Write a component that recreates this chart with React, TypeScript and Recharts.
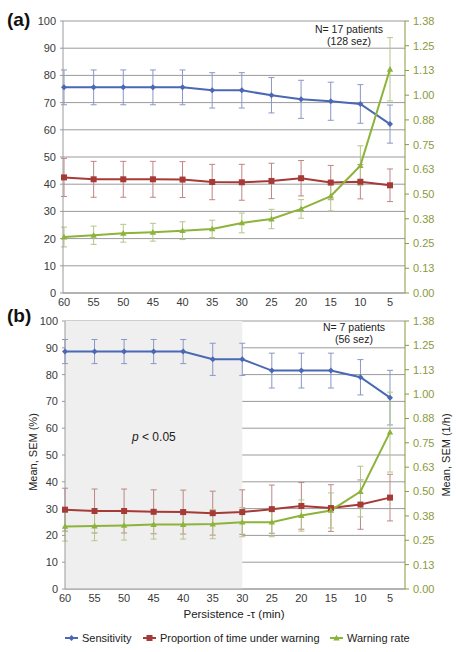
import React from "react";
import {
  LineChart,
  Line,
  XAxis,
  YAxis,
  CartesianGrid,
  ErrorBar,
  ReferenceArea,
} from "recharts";

// ---------- data ----------
const tau = [60, 55, 50, 45, 40, 35, 30, 25, 20, 15, 10, 5];

// panel (a)
const sensA = [75.6, 75.6, 75.6, 75.6, 75.6, 74.5, 74.5, 72.7, 71.2, 70.5, 69.5, 62.1];
const sensAErr = [6.4, 6.4, 6.4, 6.4, 6.4, 6.5, 6.5, 6.5, 7.0, 7.0, 7.1, 7.0];
const propA = [42.5, 41.8, 41.8, 41.8, 41.7, 40.8, 40.7, 41.2, 42.2, 40.6, 40.9, 39.6];
const propAErr = [7.0, 6.6, 6.6, 6.6, 6.6, 6.5, 6.6, 6.5, 6.5, 6.3, 6.3, 6.0];
const rateA = [0.283, 0.292, 0.302, 0.307, 0.315, 0.324, 0.354, 0.374, 0.425, 0.49, 0.644, 1.131];
const rateAErr = [0.05, 0.046, 0.045, 0.045, 0.045, 0.044, 0.05, 0.049, 0.047, 0.075, 0.1, 0.16];

// panel (b)
const sensB = [88.6, 88.6, 88.6, 88.6, 88.6, 85.7, 85.7, 81.5, 81.5, 81.5, 79.0, 71.4];
const sensBErr = [4.5, 4.5, 4.5, 4.5, 4.5, 6.0, 6.0, 6.5, 6.5, 6.5, 6.6, 10.2];
const propB = [29.6, 29.1, 29.1, 28.8, 28.7, 28.3, 28.7, 29.8, 31.0, 30.2, 31.5, 34.1];
const propBErr = [8.0, 8.2, 8.2, 8.2, 8.2, 8.2, 8.3, 9.0, 8.7, 8.7, 9.2, 8.7];
const rateB = [0.321, 0.323, 0.326, 0.331, 0.331, 0.333, 0.343, 0.343, 0.377, 0.403, 0.5, 0.805];
const rateBErr = [0.075, 0.075, 0.075, 0.075, 0.075, 0.075, 0.075, 0.075, 0.08, 0.09, 0.13, 0.205];

const leftTicks = [0, 10, 20, 30, 40, 50, 60, 70, 80, 90, 100];
const rightTicks = [0, 0.125, 0.25, 0.375, 0.5, 0.625, 0.75, 0.875, 1, 1.125, 1.25, 1.375];

const seriesNames = ["Sensitivity", "Proportion of time under warning", "Warning rate"];

// ---------- styles ----------
const FONT = '"Liberation Sans", Arial, sans-serif';
const BLUE = "#4a68b4";
const RED = "#a63a36";
const GREEN = "#8db33a";
const BLUE_ERR = "#8a97c6";
const RED_ERR = "#bf8585";
const GREEN_ERR = "#b4c68a";
const OLIVE = "#8a9a3c";
const GRID = "#9a9a9a";
const TXT = "#3a3a3a";

const buildRows = (
  s: number[], se: number[], p: number[], pe: number[], r: number[], re: number[]
) =>
  tau.map((t, i) => ({
    tau: t,
    sens: s[i],
    sensErr: se[i],
    prop: p[i],
    propErr: pe[i],
    rate: r[i],
    rateErr: re[i],
  }));

const dataA = buildRows(sensA, sensAErr, propA, propAErr, rateA, rateAErr);
const dataB = buildRows(sensB, sensBErr, propB, propBErr, rateB, rateBErr);

const diamondDot = (props: any) => {
  const { cx, cy, index } = props;
  if (cx == null || cy == null) return <g key={`d${index}`} />;
  return (
    <path
      key={`d${index}`}
      d={`M${cx},${cy - 3}L${cx + 3},${cy}L${cx},${cy + 3}L${cx - 3},${cy}Z`}
      fill={BLUE}
    />
  );
};
const squareDot = (props: any) => {
  const { cx, cy, index } = props;
  if (cx == null || cy == null) return <g key={`s${index}`} />;
  return <rect key={`s${index}`} x={cx - 3} y={cy - 3} width={6} height={6} fill={RED} />;
};
const triDot = (props: any) => {
  const { cx, cy, index } = props;
  if (cx == null || cy == null) return <g key={`t${index}`} />;
  return (
    <path
      key={`t${index}`}
      d={`M${cx},${cy - 3.2}L${cx + 3.2},${cy + 2.4}L${cx - 3.2},${cy + 2.4}Z`}
      fill={GREEN}
    />
  );
};

type PanelProps = {
  data: any[];
  top: number;
  height: number;
  leftW: number;
  padLeft: number;
  shade?: boolean;
};

const Panel = ({ data, top, height, leftW, padLeft, shade }: PanelProps) => (
  <div style={{ position: "absolute", left: 0, top, width: 456, height }}>
    <LineChart
      width={456}
      height={height}
      data={data}
      margin={{ top: 21, right: 0, bottom: 0, left: 0 }}
      style={{ fontFamily: FONT }}
    >
      {shade && (
        <ReferenceArea
          yAxisId="left"
          x1={60}
          x2={30}
          y1={0}
          y2={100}
          fill="#efefef"
          fillOpacity={1}
          stroke="none"
        />
      )}
      <CartesianGrid yAxisId="left" vertical={false} stroke={GRID} strokeWidth={1} />
      <XAxis
        dataKey="tau"
        type="category"
        interval={0}
        height={17}
        padding={{ left: padLeft, right: 15 }}
        tickLine={false}
        axisLine={{ stroke: GRID }}
        tickSize={4}
        tickMargin={1}
        tick={{ fontSize: 11, fill: TXT }}
      />
      <YAxis
        yAxisId="left"
        orientation="left"
        width={leftW}
        domain={[0, 100]}
        ticks={leftTicks}
        interval={0}
        axisLine={{ stroke: GRID }}
        tickLine={{ stroke: GRID }}
        tickSize={3}
        tickMargin={4}
        tick={{ fontSize: 11, fill: TXT }}
      />
      <YAxis
        yAxisId="right"
        orientation="right"
        width={51}
        domain={[0, 1.375]}
        ticks={rightTicks}
        interval={0}
        axisLine={{ stroke: OLIVE }}
        tickLine={{ stroke: OLIVE }}
        tickSize={4}
        tickMargin={4}
        tickFormatter={(v: number) => v.toFixed(2)}
        tick={{ fontSize: 11, fill: OLIVE }}
      />
      <Line
        yAxisId="left"
        dataKey="sens"
        name={seriesNames[0]}
        stroke={BLUE}
        strokeWidth={2}
        dot={diamondDot}
        activeDot={false}
        isAnimationActive={false}
      >
        <ErrorBar dataKey="sensErr" width={3} stroke={BLUE_ERR} strokeWidth={1} />
      </Line>
      <Line
        yAxisId="left"
        dataKey="prop"
        name={seriesNames[1]}
        stroke={RED}
        strokeWidth={2}
        dot={squareDot}
        activeDot={false}
        isAnimationActive={false}
      >
        <ErrorBar dataKey="propErr" width={3} stroke={RED_ERR} strokeWidth={1} />
      </Line>
      <Line
        yAxisId="right"
        dataKey="rate"
        name={seriesNames[2]}
        stroke={GREEN}
        strokeWidth={2}
        dot={triDot}
        activeDot={false}
        isAnimationActive={false}
      >
        <ErrorBar dataKey="rateErr" width={3} stroke={GREEN_ERR} strokeWidth={1} />
      </Line>
    </LineChart>
  </div>
);

const legendItems = [
  { name: seriesNames[0], color: BLUE, x: 65, marker: "diamond" },
  { name: seriesNames[1], color: RED, x: 143, marker: "square" },
  { name: seriesNames[2], color: GREEN, x: 330, marker: "triangle" },
];

const Overlay = () => (
  <svg
    width={456}
    height={652}
    style={{ position: "absolute", left: 0, top: 0, pointerEvents: "none", fontFamily: FONT }}
  >
    <text x={7} y={26} fontSize={19} fontWeight="bold" fill="#111">(a)</text>
    <text x={7} y={322} fontSize={19} fontWeight="bold" fill="#111">(b)</text>

    <text x={349} y={33} fontSize={10.5} fill="#222" textAnchor="middle">N= 17 patients</text>
    <text x={349} y={44.5} fontSize={10.5} fill="#222" textAnchor="middle">(128 sez)</text>
    <text x={354} y={331} fontSize={10.5} fill="#222" textAnchor="middle">N= 7 patients</text>
    <text x={354} y={342.5} fontSize={10.5} fill="#222" textAnchor="middle">(56 sez)</text>

    <text x={132} y={441} fontSize={12} fill="#222">
      <tspan fontStyle="italic">p</tspan> {"< 0.05"}
    </text>

    <text
      x={0}
      y={0}
      fontSize={11}
      fill="#222"
      textAnchor="middle"
      transform="translate(37,452) rotate(-90)"
    >
      Mean, SEM (%)
    </text>
    <text
      x={0}
      y={0}
      fontSize={11}
      fill="#222"
      textAnchor="middle"
      transform="translate(450,455) rotate(-90)"
    >
      Mean, SEM (1/h)
    </text>

    <text x={234} y={618} fontSize={11.5} fill="#222" textAnchor="middle">
      Persistence -τ (min)
    </text>

    {legendItems.map((it) => {
      const cy = 638;
      const mx = it.x + 6.5;
      return (
        <g key={it.name}>
          <line x1={it.x} y1={cy} x2={it.x + 13} y2={cy} stroke={it.color} strokeWidth={2} />
          {it.marker === "diamond" && (
            <path d={`M${mx},${cy - 3}L${mx + 3},${cy}L${mx},${cy + 3}L${mx - 3},${cy}Z`} fill={it.color} />
          )}
          {it.marker === "square" && (
            <rect x={mx - 3} y={cy - 3} width={6} height={6} fill={it.color} />
          )}
          {it.marker === "triangle" && (
            <path d={`M${mx},${cy - 3.2}L${mx + 3.2},${cy + 2.4}L${mx - 3.2},${cy + 2.4}Z`} fill={it.color} />
          )}
          <text x={it.x + 17} y={cy + 4} fontSize={11} fill="#222">
            {it.name}
          </text>
        </g>
      );
    })}
  </svg>
);

export default function App() {
  return (
    <div
      style={{
        position: "absolute",
        left: 0,
        top: 0,
        width: 456,
        height: 652,
        background: "#fff",
        overflow: "hidden",
      }}
    >
      <Panel data={dataA} top={0} height={310} leftW={63} padLeft={1} />
      <Panel data={dataB} top={300} height={306} leftW={65} padLeft={0} shade />
      <Overlay />
    </div>
  );
}
